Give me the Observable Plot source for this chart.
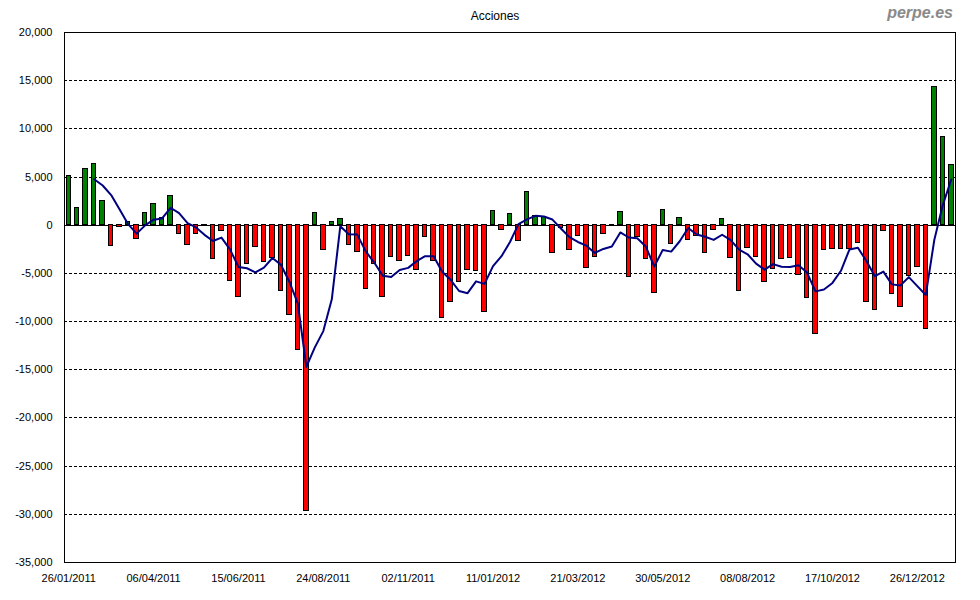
<!DOCTYPE html>
<html><head><meta charset="utf-8">
<script src="https://cdn.jsdelivr.net/npm/d3@7"></script>
<script src="https://cdn.jsdelivr.net/npm/@observablehq/plot@0.6"></script>
<style>
body{margin:0;background:#fff;}
#wrap{position:relative;width:980px;height:600px;font-family:"Liberation Sans",Arial,sans-serif;}
#title{position:absolute;left:0;width:990px;top:9px;text-align:center;font-size:12px;color:#000;}
#brand{position:absolute;right:27px;top:4px;font-size:16px;font-weight:bold;font-style:italic;color:#8a8a8a;}
#wrap svg{position:absolute;left:0;top:0;}
</style></head><body>
<div id="wrap"><div id="title">Acciones</div><div id="brand">perpe.es</div></div>
<script>
// Weekly values (26/01/2011 ... 23/01/2013)
const values = [
  5100, 1800, 5800, 6400, 2500, -2200, -150, 300, -1450, 1250,
  2200, 800, 3000, -950, -2000, -950, -100, -3500, -600, -5800,
  -7400, -4050, -2300, -3850, -3400, -6850, -9350, -12900, -29700, 1250,
  -2600, 300, 600, -2000, -2800, -6650, -4050, -7450, -3300, -3750,
  -3200, -4650, -1250, -3750, -9650, -8000, -5900, -4650, -4750, -9050,
  1450, -500, 1150, -1650, 3400, 1000, 850, -2900, -300, -2600,
  -1150, -4450, -3300, -950, -100, 1350, -5400, -1250, -3500, -7050,
  1550, -1950, 800, -1550, -1150, -2900, -500, 600, -3400, -6850,
  -2400, -3300, -5900, -4550, -3500, -3400, -5200, -7550, -11300, -2600,
  -2500, -2500, -2500, -1850, -8000, -8800, -600, -7150, -8500, -5300,
  -4350, -10800, 14300, 9200, 6300
];
const tickWeeks = [0, 10, 20, 30, 40, 50, 60, 70, 80, 90, 100];
const tickLabels = ["26/01/2011", "06/04/2011", "15/06/2011", "24/08/2011", "02/11/2011",
  "11/01/2012", "21/03/2012", "30/05/2012", "08/08/2012", "17/10/2012", "26/12/2012"];
const yTicks = [20000, 15000, 10000, 5000, 0, -5000, -10000, -15000, -20000, -25000, -30000, -35000];
const gridLines = [15000, 10000, 5000, -5000, -10000, -15000, -20000, -25000, -30000];

const data = values.map((v, i) => ({week: i, value: v}));
const fmt = d => d < 0 ? "-" + d3.format(",")(-d) : d3.format(",")(d);

const chart = Plot.plot({
  width: 980, height: 600,
  marginLeft: 64, marginRight: 25, marginTop: 32, marginBottom: 38,
  style: {fontFamily: "'Liberation Sans', Arial, sans-serif", fontSize: "11px", color: "#000", background: "transparent"},
  x: {type: "band", domain: d3.range(values.length), padding: 0, ticks: tickWeeks,
      tickFormat: i => tickLabels[tickWeeks.indexOf(i)] ?? "", tickSize: 0, tickPadding: 12, label: null},
  y: {domain: [-35000, 20000], ticks: yTicks, tickFormat: fmt, tickSize: 0, tickPadding: 12, label: null},
  marks: [
    Plot.ruleY(gridLines, {stroke: "#000", strokeDasharray: "3,2", strokeWidth: 1, shapeRendering: "crispEdges"}),
    Plot.ruleY([0], {stroke: "#000", strokeWidth: 1, shapeRendering: "crispEdges"}),
    Plot.barY(data, {filter: d => d.value >= 0, x: "week", y: "value", fill: "#008000", stroke: "#000", strokeWidth: 1, insetLeft: 2, insetRight: 2, shapeRendering: "crispEdges"}),
    Plot.barY(data, {filter: d => d.value < 0, x: "week", y: "value", fill: "#ff0000", stroke: "#000", strokeWidth: 1, insetLeft: 2, insetRight: 2, shapeRendering: "crispEdges"}),
    Plot.lineY(data, Plot.windowY({k: 4, anchor: "end", strict: true}, {x: "week", y: "value", stroke: "#000080", strokeWidth: 2})),
    Plot.frame({stroke: "#000", strokeWidth: 1, shapeRendering: "crispEdges"})
  ]
});
document.getElementById("wrap").prepend(chart);
</script>
</body></html>
